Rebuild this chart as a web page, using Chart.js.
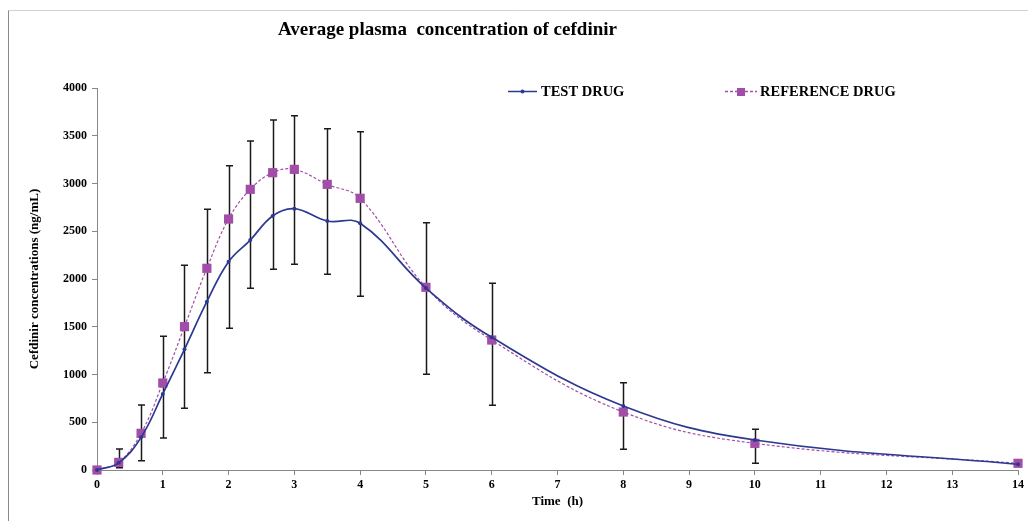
<!DOCTYPE html>
<html>
<head>
<meta charset="utf-8">
<script src="https://cdn.jsdelivr.net/npm/chart.js@4"></script>
<style>
  body { margin: 0; background: #fff; }
  #plasma-chart-id { display: block; }
</style>
</head>
<body>
<canvas id="plasma-chart-id" width="1028" height="521"></canvas>
<script>
// sampling times (h)
const timePoints = [0, 0.33, 0.67, 1, 1.33, 1.67, 2, 2.33, 2.67, 3, 3.5, 4, 5, 6, 8, 10, 14];
// mean concentrations (ng/mL)
const testDrug = [0, 75, 342, 796, 1264, 1763, 2181, 2408, 2660, 2736, 2607, 2583, 1905, 1389, 670, 314, 60];
const referenceDrug = [0, 80, 384, 911, 1501, 2112, 2628, 2939, 3113, 3148, 2991, 2845, 1913, 1361, 607, 279, 70];
// error bar ends (ng/mL)
const errorTop = [null, 220, 680, 1400, 2143, 2730, 3187, 3445, 3665, 3710, 3574, 3543, 2590, 1955, 914, 426, 70];
const errorBottom = [null, 24, 98, 335, 646, 1019, 1484, 1902, 2102, 2154, 2049, 1819, 1002, 677, 217, 70, 40];
const yTicks = [0, 500, 1000, 1500, 2000, 2500, 3000, 3500, 4000];

const serif = "'Liberation Serif', 'Times New Roman', serif";
const testColor = '#2b3990';
const refColor = '#a24ea8';

// frame, error bars, title, legend
const decorPlugin = {
  id: 'decor',
  beforeDraw(chart) {
    const ctx = chart.ctx;
    ctx.save();
    ctx.strokeStyle = '#d2d2d2';
    ctx.lineWidth = 1;
    ctx.beginPath();
    ctx.moveTo(8.5, 10.5);
    ctx.lineTo(1028, 10.5);
    ctx.stroke();
    ctx.strokeStyle = '#8a8a8a';
    ctx.beginPath();
    ctx.moveTo(8.5, 10.5);
    ctx.lineTo(8.5, 521);
    ctx.stroke();
    ctx.restore();
  },
  beforeDatasetsDraw(chart) {
    const ctx = chart.ctx;
    const xs = chart.scales.x, ys = chart.scales.y;
    ctx.save();
    ctx.strokeStyle = '#1a1a1a';
    ctx.lineWidth = 1.5;
    timePoints.forEach((t, i) => {
      if (errorTop[i] == null) return;
      const x = Math.round(xs.getPixelForValue(t)) + 0.5;
      const y1 = ys.getPixelForValue(errorTop[i]);
      const y2 = ys.getPixelForValue(errorBottom[i]);
      ctx.beginPath();
      ctx.moveTo(x, y1); ctx.lineTo(x, y2);
      ctx.moveTo(x - 3.5, y1); ctx.lineTo(x + 3.5, y1);
      ctx.moveTo(x - 3.5, y2); ctx.lineTo(x + 3.5, y2);
      ctx.stroke();
    });
    ctx.restore();
  },
  afterDraw(chart) {
    const ctx = chart.ctx;
    ctx.save();
    ctx.fillStyle = '#000';
    ctx.textBaseline = 'middle';
    ctx.font = 'bold 19px ' + serif;
    ctx.textAlign = 'left';
    ctx.fillText('Average plasma  concentration of cefdinir', 278, 30);

    // legend
    ctx.font = 'bold 14.5px ' + serif;
    ctx.strokeStyle = testColor;
    ctx.lineWidth = 1.5;
    ctx.beginPath(); ctx.moveTo(508, 91.5); ctx.lineTo(537, 91.5); ctx.stroke();
    ctx.fillStyle = testColor;
    ctx.beginPath(); ctx.arc(522.5, 91.5, 2, 0, Math.PI * 2); ctx.fill();
    ctx.fillStyle = '#000';
    ctx.fillText('TEST DRUG', 541, 92);

    ctx.strokeStyle = refColor;
    ctx.setLineDash([3, 2]);
    ctx.beginPath(); ctx.moveTo(725, 91.5); ctx.lineTo(757, 91.5); ctx.stroke();
    ctx.setLineDash([]);
    ctx.fillStyle = refColor;
    ctx.fillRect(737, 88, 8, 8);
    ctx.fillStyle = '#000';
    ctx.fillText('REFERENCE DRUG', 760, 92);
    ctx.restore();
  }
};

const plasmaCtx = document.getElementById('plasma-chart-id');
new Chart(plasmaCtx, {
  type: 'line',
  data: {
    datasets: [
      {
        label: 'TEST DRUG',
        data: timePoints.map((t, i) => ({ x: t, y: testDrug[i] })),
        borderColor: testColor,
        backgroundColor: testColor,
        borderWidth: 1.7,
        tension: 0.4,
        fill: false,
        clip: false,
        pointStyle: 'circle',
        pointRadius: 2,
        pointBorderWidth: 0
      },
      {
        label: 'REFERENCE DRUG',
        data: timePoints.map((t, i) => ({ x: t, y: referenceDrug[i] })),
        borderColor: refColor,
        backgroundColor: refColor,
        borderWidth: 1.2,
        borderDash: [3, 2],
        tension: 0.4,
        fill: false,
        clip: false,
        pointStyle: 'rect',
        pointRadius: 6.5,
        pointBorderWidth: 0
      }
    ]
  },
  options: {
    responsive: false,
    animation: false,
    layout: { padding: { top: 88, right: 10, left: 0, bottom: 0 } },
    plugins: {
      legend: { display: false },
      title: { display: false },
      tooltip: { enabled: false }
    },
    scales: {
      x: {
        type: 'linear',
        min: 0,
        max: 14,
        afterFit: scale => { scale.height = 51; },
        ticks: {
          stepSize: 1,
          color: '#000',
          padding: 3,
          font: { family: serif, size: 12, weight: 'bold' }
        },
        grid: { drawOnChartArea: false, color: '#888', tickLength: 5 },
        border: { color: '#888' },
        title: {
          display: true,
          text: 'Time  (h)',
          color: '#000',
          padding: { top: 0, bottom: 12 },
          font: { family: serif, size: 13, weight: 'bold' }
        }
      },
      y: {
        min: 0,
        max: 4000,
        afterFit: scale => { scale.width = 97; },
        afterBuildTicks: scale => { scale.ticks = yTicks.map(v => ({ value: v })); },
        ticks: {
          color: '#000',
          padding: 5,
          callback: value => String(value),
          font: { family: serif, size: 12, weight: 'bold' }
        },
        grid: { drawOnChartArea: false, color: '#888', tickLength: 5 },
        border: { color: '#888' },
        title: {
          display: true,
          text: 'Cefdinir concentrations (ng/mL)',
          color: '#000',
          padding: { top: 27, bottom: 0 },
          font: { family: serif, size: 13, weight: 'bold' }
        }
      }
    }
  },
  plugins: [decorPlugin]
});
</script>
</body>
</html>
